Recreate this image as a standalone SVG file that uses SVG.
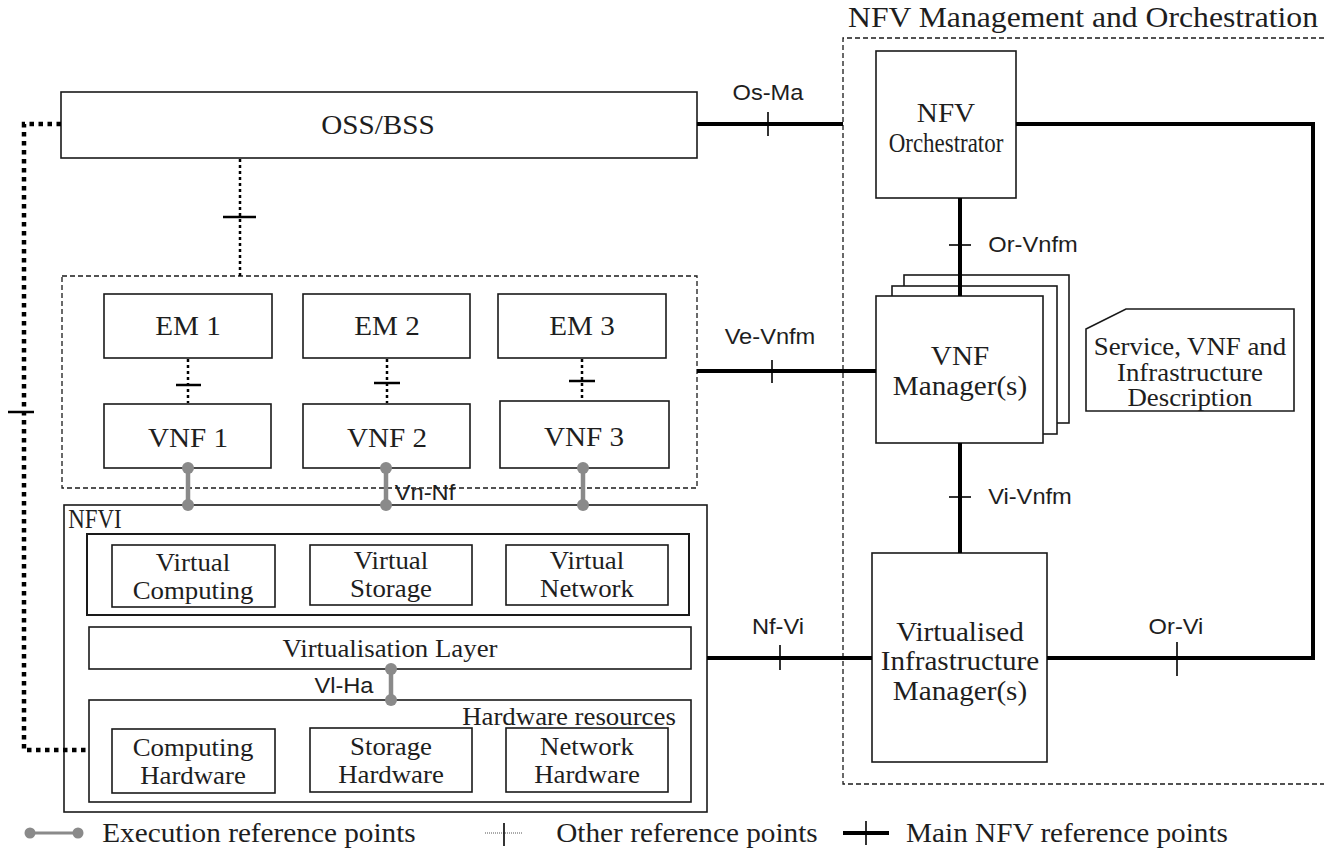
<svg xmlns="http://www.w3.org/2000/svg" width="1324" height="849" viewBox="0 0 1324 849">
  <style>
    .box { fill: #fff; stroke: #1a1a1a; stroke-width: 1.6; }
    .dash { fill: none; stroke: #1a1a1a; stroke-width: 1.3; stroke-dasharray: 5 3; }
    .main { fill: none; stroke: #000; stroke-width: 4; }
    .tick { stroke: #000; stroke-width: 1.6; }
    .other { fill: none; stroke: #000; stroke-width: 2.5; stroke-dasharray: 3 3; }
    .otick { stroke: #000; stroke-width: 2.5; }
    .osl { fill: none; stroke: #000; stroke-width: 4.5; stroke-dasharray: 4.5 4.5; }
    .exec { stroke: #8a8a8a; stroke-width: 4.5; }
    .dot { fill: #8a8a8a; }
    .t { font-family: "Liberation Serif", "Times New Roman", serif; fill: #1e1e1e; text-anchor: middle;
         transform-box: fill-box; transform-origin: center; transform: scaleX(1.1); }
    .l { font-size: 26.5px; }
    .m { font-size: 24.4px; }
    .g { font-size: 26.6px; }
    .nc { font-size: 27px; transform: scaleX(0.85); }
    .a { font-family: "Liberation Sans", Arial, sans-serif; font-size: 21.5px; fill: #1e1e1e; text-anchor: middle;
         transform-box: fill-box; transform-origin: center; transform: scaleX(1.1); }
  </style>

  <g id="oss-bss">
    <rect class="box" x="61" y="92" width="636" height="66"/>
    <text class="t l" x="378" y="134">OSS/BSS</text>
  </g>

  <g id="vnf-domain">
    <rect class="dash" x="62" y="276" width="635" height="212"/>
  </g>
  <g id="em1"><rect class="box" x="104" y="294" width="168" height="64"/><text class="t l" x="188" y="335">EM 1</text></g>
  <g id="em2"><rect class="box" x="303" y="294" width="167" height="64"/><text class="t l" x="387" y="335">EM 2</text></g>
  <g id="em3"><rect class="box" x="498" y="294" width="168" height="64"/><text class="t l" x="582" y="335">EM 3</text></g>
  <g id="vnf1"><rect class="box" x="104" y="404" width="167" height="64"/><text class="t l" x="188" y="447">VNF 1</text></g>
  <g id="vnf2"><rect class="box" x="303" y="404" width="167" height="64"/><text class="t l" x="387" y="447">VNF 2</text></g>
  <g id="vnf3"><rect class="box" x="500" y="401" width="169" height="67"/><text class="t l" x="584" y="446">VNF 3</text></g>

  <g id="nfvi">
    <rect class="box" x="64" y="505" width="643" height="307"/>
    <text class="t nc" x="95" y="528">NFVI</text>
  </g>
  <g id="virtual-resources">
    <rect class="box" x="87" y="534" width="602" height="81" style="stroke-width:2"/>
  </g>
  <g id="virtual-computing"><rect class="box" x="112" y="545" width="163" height="62"/>
    <text class="t m" x="193" y="571">Virtual</text><text class="t m" x="193" y="599">Computing</text></g>
  <g id="virtual-storage"><rect class="box" x="310" y="545" width="162" height="60"/>
    <text class="t m" x="391" y="569">Virtual</text><text class="t m" x="391" y="597">Storage</text></g>
  <g id="virtual-network"><rect class="box" x="506" y="545" width="162" height="60"/>
    <text class="t m" x="587" y="569">Virtual</text><text class="t m" x="587" y="597">Network</text></g>
  <g id="virtualisation-layer"><rect class="box" x="89" y="627" width="602" height="42"/>
    <text class="t m" x="390" y="657">Virtualisation Layer</text></g>
  <g id="hardware-resources"><rect class="box" x="89" y="700" width="602" height="102"/>
    <text class="t m" x="569" y="725">Hardware resources</text></g>
  <g id="computing-hardware"><rect class="box" x="112" y="729" width="163" height="64"/>
    <text class="t m" x="193" y="756">Computing</text><text class="t m" x="193" y="784">Hardware</text></g>
  <g id="storage-hardware"><rect class="box" x="310" y="728" width="162" height="64"/>
    <text class="t m" x="391" y="755">Storage</text><text class="t m" x="391" y="783">Hardware</text></g>
  <g id="network-hardware"><rect class="box" x="506" y="728" width="162" height="64"/>
    <text class="t m" x="587" y="755">Network</text><text class="t m" x="587" y="783">Hardware</text></g>

  <g id="mano">
    <path class="dash" d="M1324,38 H843 V784 H1324"/>
    <text class="t" x="1083" y="27" style="font-size:28.8px">NFV Management and Orchestration</text>
  </g>
  <g id="nfv-orchestrator"><rect class="box" x="876" y="51" width="140" height="147"/>
    <text class="t l" x="946" y="122">NFV</text>
    <text class="t nc" x="946" y="152">Orchestrator</text></g>
  <g id="vnf-manager">
    <rect class="box" x="904" y="275" width="165" height="148"/>
    <rect class="box" x="892" y="286" width="165" height="148"/>
    <rect class="box" x="876" y="296" width="167" height="147"/>
    <text class="t l" x="960" y="365">VNF</text><text class="t l" x="960" y="395">Manager(s)</text>
  </g>
  <g id="descriptions">
    <path class="box" d="M1086,329 L1126,309 H1294 V411 H1086 Z"/>
    <text class="t m" x="1190" y="355">Service, VNF and</text>
    <text class="t m" x="1190" y="381">Infrastructure</text>
    <text class="t m" x="1190" y="406">Description</text>
  </g>
  <g id="vim"><rect class="box" x="872" y="553" width="175" height="209"/>
    <text class="t l" x="960" y="641">Virtualised</text><text class="t l" x="960" y="670">Infrastructure</text><text class="t l" x="960" y="700">Manager(s)</text></g>

  <!-- reference points -->
  <g id="connectors">
    <!-- OSS/BSS to hardware resources -->
    <path class="osl" d="M61,124 H24 V750 H89"/>
    <line class="otick" x1="8" y1="412" x2="34" y2="412"/>
    <!-- OSS/BSS to EM/VNF block -->
    <line class="other" x1="240" y1="159" x2="240" y2="276"/>
    <line class="otick" x1="223" y1="217" x2="256" y2="217"/>
    <!-- EM to VNF -->
    <line class="other" x1="188" y1="359" x2="188" y2="403"/>
    <line class="otick" x1="176" y1="385" x2="201" y2="385"/>
    <line class="other" x1="387" y1="359" x2="387" y2="403"/>
    <line class="otick" x1="374" y1="383" x2="400" y2="383"/>
    <line class="other" x1="582" y1="359" x2="582" y2="400"/>
    <line class="otick" x1="569" y1="381" x2="595" y2="381"/>
    <!-- Vn-Nf execution points -->
    <line class="exec" x1="188" y1="468" x2="188" y2="505"/>
    <circle class="dot" cx="188" cy="468" r="6"/><circle class="dot" cx="188" cy="505" r="6"/>
    <line class="exec" x1="386" y1="468" x2="386" y2="505"/>
    <circle class="dot" cx="386" cy="468" r="6"/><circle class="dot" cx="386" cy="505" r="6"/>
    <line class="exec" x1="583" y1="468" x2="583" y2="505"/>
    <circle class="dot" cx="583" cy="468" r="6"/><circle class="dot" cx="583" cy="505" r="6"/>
    <text class="a" x="425" y="500">Vn-Nf</text>
    <!-- Vl-Ha execution point -->
    <line class="exec" x1="391" y1="669" x2="391" y2="700"/>
    <circle class="dot" cx="391" cy="669" r="6"/><circle class="dot" cx="391" cy="700" r="6"/>
    <text class="a" x="344" y="693">Vl-Ha</text>
    <!-- Os-Ma -->
    <line class="main" x1="697" y1="124" x2="843" y2="124"/>
    <line class="tick" x1="768" y1="112" x2="768" y2="136"/>
    <text class="a" x="768" y="100">Os-Ma</text>
    <!-- Or-Vi loop -->
    <path class="main" d="M1016,124 H1313 V658 H1047"/>
    <line class="tick" x1="1177" y1="642" x2="1177" y2="676"/>
    <text class="a" x="1176" y="634">Or-Vi</text>
    <!-- Or-Vnfm -->
    <line class="main" x1="960" y1="198" x2="960" y2="296"/>
    <line class="tick" x1="949" y1="245" x2="971" y2="245"/>
    <text class="a" x="1033" y="252">Or-Vnfm</text>
    <!-- Ve-Vnfm -->
    <line class="main" x1="697" y1="371" x2="876" y2="371"/>
    <line class="tick" x1="772" y1="360" x2="772" y2="383"/>
    <text class="a" x="770" y="344">Ve-Vnfm</text>
    <!-- Vi-Vnfm -->
    <line class="main" x1="960" y1="443" x2="960" y2="553"/>
    <line class="tick" x1="949" y1="497" x2="971" y2="497"/>
    <text class="a" x="1030" y="504">Vi-Vnfm</text>
    <!-- Nf-Vi -->
    <line class="main" x1="707" y1="658" x2="872" y2="658"/>
    <line class="tick" x1="780" y1="645" x2="780" y2="670"/>
    <text class="a" x="778" y="634">Nf-Vi</text>
  </g>

  <g id="legend">
    <line class="exec" x1="30" y1="833" x2="78" y2="833" style="stroke-width:3"/>
    <circle class="dot" cx="30" cy="833" r="5.5"/><circle class="dot" cx="78" cy="833" r="5.5"/>
    <text class="t g" x="259" y="842">Execution reference points</text>
    <line x1="485" y1="833" x2="523" y2="833" stroke="#555" stroke-width="1" stroke-dasharray="1 1"/>
    <line x1="504" y1="823" x2="504" y2="846" stroke="#000" stroke-width="1.6"/>
    <text class="t g" x="687" y="842">Other reference points</text>
    <line x1="843" y1="833" x2="889" y2="833" stroke="#000" stroke-width="4"/>
    <line x1="866" y1="821" x2="866" y2="845" stroke="#000" stroke-width="1.6"/>
    <text class="t g" x="1067" y="842">Main NFV reference points</text>
  </g>
</svg>
